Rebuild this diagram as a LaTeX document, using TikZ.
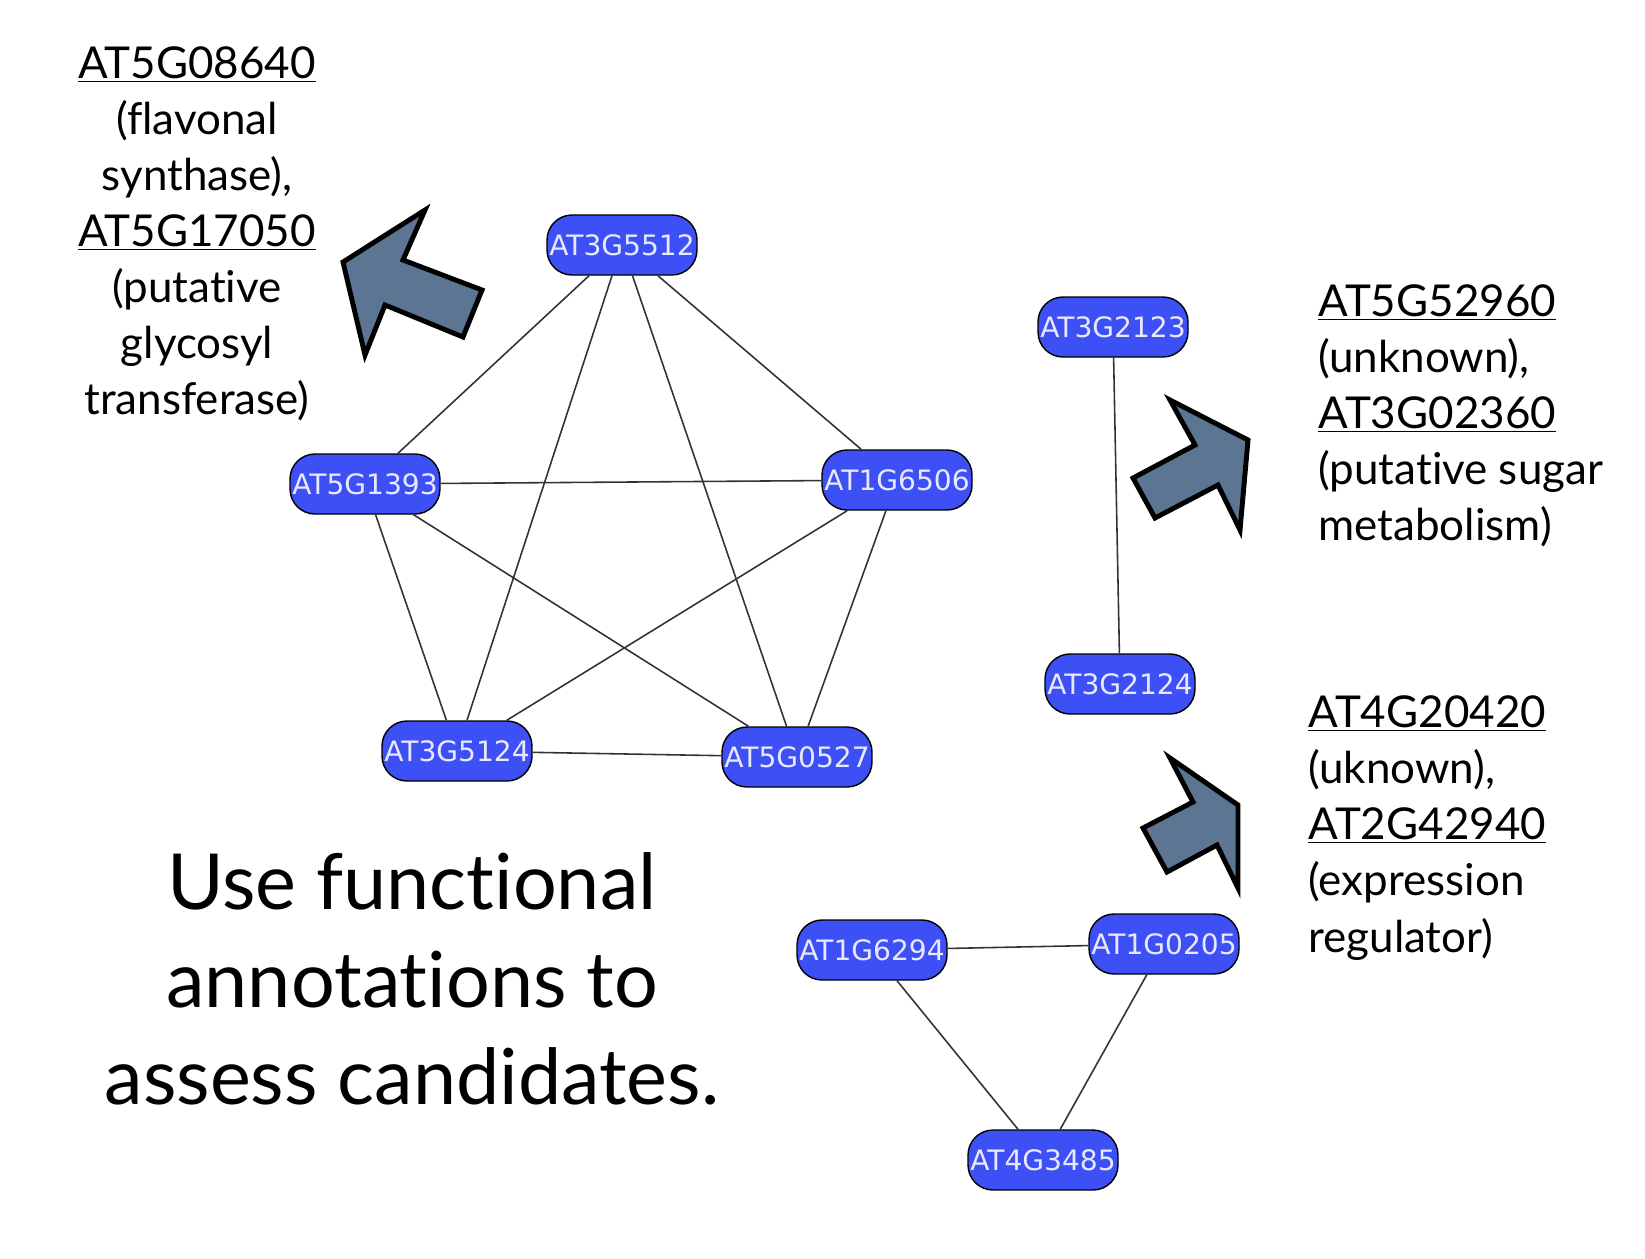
\documentclass[tikz,border=0pt]{standalone}
\usepackage{fontspec}
\setmainfont{Lato}[Ligatures=NoCommon]
\newfontfamily\genefont{DejaVu Sans}
\definecolor{geneblue}{RGB}{60,80,245}
\definecolor{genetext}{RGB}{232,232,255}
\definecolor{flecheblue}{RGB}{92,117,146}
\begin{document}
\begin{tikzpicture}[x=0.02cm,y=-0.02cm]
	\tikzstyle{gene}=[draw=black, line width=0.8pt, fill=geneblue, text=genetext, rounded corners=0.5cm, minimum width=3cm, minimum height=1.2cm, inner sep=0pt, font=\genefont\fontsize{16pt}{19pt}\selectfont]
	\tikzstyle{lien}=[draw=black!80, line width=0.9pt]
	\tikzstyle{fleche}=[draw=black, line width=2.8pt, fill=flecheblue, line join=miter]
	\tikzstyle{note}=[font=\fontsize{25pt}{31.9pt}\selectfont, inner sep=0pt]
	\useasboundingbox (0,0) rectangle (1645,1258);
	% clique de cinq
	\node[gene] (g1) at (622,245) {AT3G5512};
	\node[gene] (g2) at (365,484) {AT5G1393};
	\node[gene] (g3) at (897,480) {AT1G6506};
	\node[gene] (g4) at (457,751) {AT3G5124};
	\node[gene] (g5) at (797,757) {AT5G0527};
	% paire
	\node[gene] (g6) at (1113,327) {AT3G2123};
	\node[gene] (g7) at (1120,684) {AT3G2124};
	% triangle
	\node[gene] (g8) at (872,950) {AT1G6294};
	\node[gene] (g9) at (1164,944) {AT1G0205};
	\node[gene] (g10) at (1043,1160) {AT4G3485};
	\draw[lien] (g1) -- (g2);
	\draw[lien] (g1) -- (g3);
	\draw[lien] (g1) -- (g4);
	\draw[lien] (g1) -- (g5);
	\draw[lien] (g2) -- (g3);
	\draw[lien] (g2) -- (g4);
	\draw[lien] (g2) -- (g5);
	\draw[lien] (g3) -- (g4);
	\draw[lien] (g3) -- (g5);
	\draw[lien] (g4) -- (g5);
	\draw[lien] (g6) -- (g7);
	\draw[lien] (g8) -- (g9);
	\draw[lien] (g8) -- (g10);
	\draw[lien] (g9) -- (g10);
	% grosses fleches
	\draw[fleche] (343,262) -- (425,210) -- (403,260) -- (482,290) -- (463,337) -- (385,305) -- (365,355) -- cycle;
	\draw[fleche] (1248,440) -- (1240,530) -- (1218,485) -- (1155,518) -- (1133,478) -- (1195,445) -- (1170,400) -- cycle;
	\draw[fleche] (1238,805) -- (1238,888) -- (1217,845) -- (1167,872) -- (1143,828) -- (1193,802) -- (1170,758) -- cycle;
	% annotations
	\node[note, align=center] (ann1) at (197,234) {\underline{AT5G08640}\\(flavonal\\synthase),\\\underline{AT5G17050}\\(putative\\glycosyl\\transferase)};
	\node[note, align=left, anchor=west] (ann2) at (1318,416) {\underline{AT5G52960}\\(unknown),\\\underline{AT3G02360}\\(putative sugar\\metabolism)};
	\node[note, align=left, anchor=west] (ann3) at (1308,828) {\underline{AT4G20420}\\(uknown),\\\underline{AT2G42940}\\(expression\\regulator)};
	\node[align=center, inner sep=0pt, font=\fontsize{44pt}{55.5pt}\selectfont] (titre) at (412,979) {Use functional\\annotations to\\assess candidates.};
\end{tikzpicture}
\end{document}
